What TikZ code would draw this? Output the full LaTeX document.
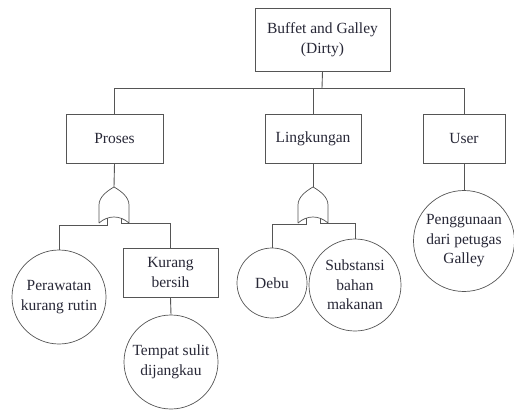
\documentclass[tikz,border=0pt]{standalone}
\usepackage{fontspec}
\setmainfont{Liberation Serif}
\newfontfamily\diagfont{Liberation Serif}
\usetikzlibrary{positioning, calc}
\definecolor{lineGray}{RGB}{85, 85, 85}
\definecolor{textDark}{RGB}{40, 40, 55}

\begin{document}
\begin{tikzpicture}[
        x=1pt, y=-1pt,
        every node/.style={font=\diagfont\fontsize{15.5}{19.5}\selectfont, text=textDark},
        boxNode/.style={draw=lineGray, line width=0.9pt, fill=white, align=center, inner sep=0pt, minimum height=49pt},
        circNode/.style={draw=lineGray, line width=0.7pt, circle, fill=white, align=center, inner sep=0pt},
        link/.style={draw=lineGray, line width=0.9pt},
        orGate/.pic={
            \draw[lineGray, line width=0.7pt, fill=white] (-15,36) -- (-15,18) .. controls (-15,10) and (-7,4) .. (0,0)
                .. controls (7,4) and (15,10) .. (15,18) -- (15,36) .. controls (6,28) and (-6,28) .. (-15,36);
            \coordinate (-out) at (0,0);
            \coordinate (-in1) at (-7,31);
            \coordinate (-in2) at (7,31);
        }
    ]
        \useasboundingbox (0,0) rectangle (514,412);

        \node[boxNode, minimum width=135pt, minimum height=63pt] (top) at (322.5,39.5) {Buffet and Galley\\(Dirty)};
        \node[boxNode, minimum width=97pt] (proses) at (114.5,138.5) {Proses};
        \node[boxNode, minimum width=96pt] (ling) at (313,138.5) {Lingkungan};
        \node[boxNode, minimum width=82pt] (user) at (464,138.5) {User};

        \coordinate (bus) at (322,88);
        \draw[link] (top.south) -- (bus);
        \draw[link] (bus) -| (proses.north);
        \draw[link] (bus) -| (ling.north);
        \draw[link] (bus) -| (user.north);

        % gerbang OR
        \pic (gateA) at (114,187) {orGate};
        \pic (gateB) at (313,187) {orGate};
        \draw[link] (proses.south) -- (gateA-out);
        \draw[link] (ling.south) -- (gateB-out);

        \node[circNode, minimum size=94pt] (rawat) at (59,297) {Perawatan\\kurang rutin};
        \node[boxNode, minimum width=95pt] (kurang) at (170.5,272.5) {Kurang\\bersih};
        \node[circNode, minimum size=94pt] (tempat) at (171,362) {Tempat sulit\\dijangkau};
        \node[circNode, minimum size=70pt] (debu) at (272,283) {Debu};
        \node[circNode, minimum size=92pt] (subst) at (355,285) {Substansi\\bahan\\makanan};
        \node[circNode, minimum size=101pt] (guna) at (464,241) {Penggunaan\\dari petugas\\Galley};

        \draw[link] (gateA-in1) -- ++(0,7) -| (rawat.north);
        \draw[link] (gateA-in2) -- ++(0,5) -| (kurang.north);
        \draw[link] (kurang.south) -- (tempat.north);
        \draw[link] (gateB-in1) -- ++(0,6) -| (debu.north);
        \draw[link] (gateB-in2) -- ++(0,5) -| (subst.north);
        \draw[link] (user.south) -- (guna.north);
    \end{tikzpicture}
\end{document}
